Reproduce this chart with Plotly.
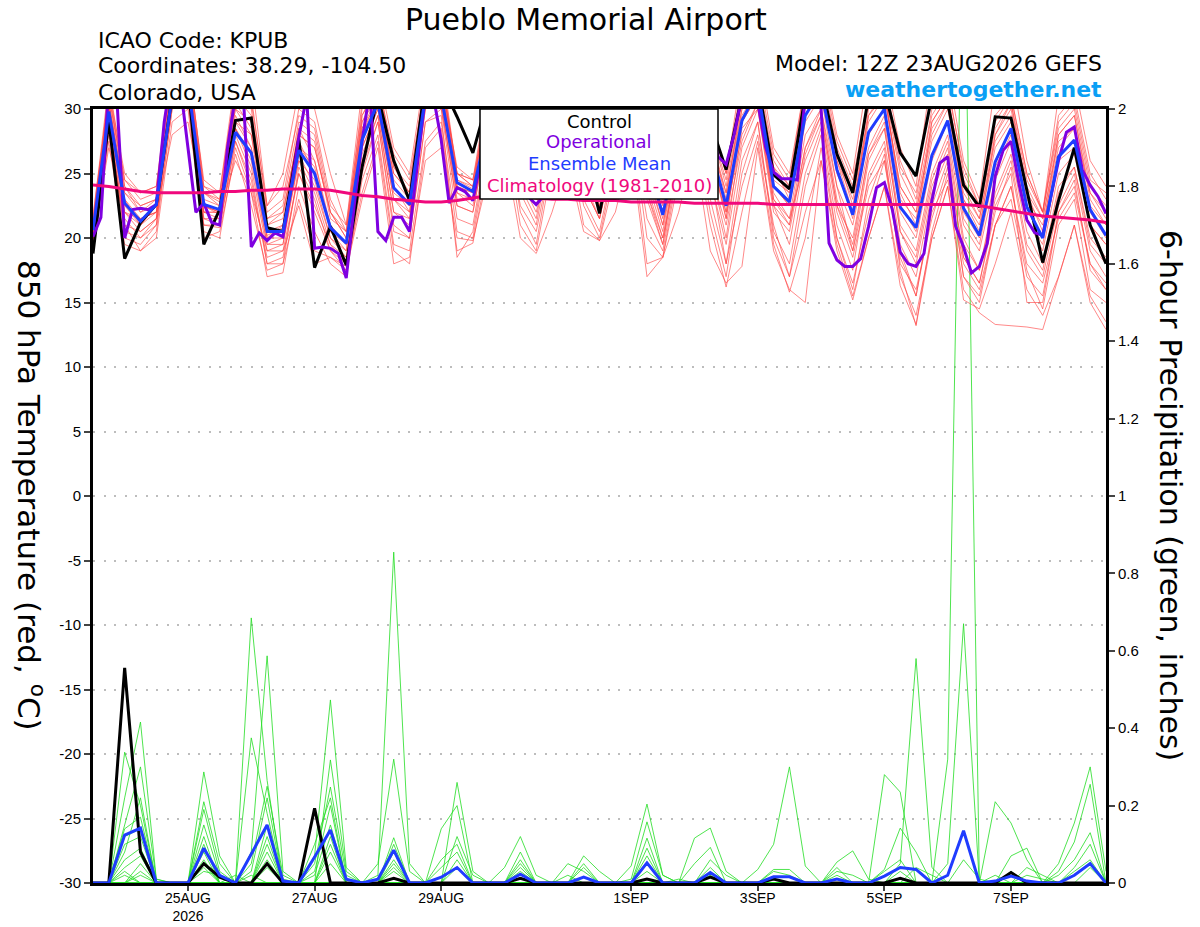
import pandas as pd
import plotly.graph_objects as go

# 6-hourly ensemble steps and 3-hourly operational steps from 12Z 23AUG2026
ens_times = pd.date_range("2026-08-23 12:00", periods=65, freq="6h")
oper_times = pd.date_range("2026-08-23 12:00", periods=129, freq="3h")

tick_days = ["2026-08-25", "2026-08-27", "2026-08-29", "2026-09-01",
             "2026-09-03", "2026-09-05", "2026-09-07"]
tick_text = ["25AUG<br>2026", "27AUG", "29AUG", "1SEP", "3SEP", "5SEP", "7SEP"]

temp_ticks = [-30, -25, -20, -15, -10, -5, 0, 5, 10, 15, 20, 25, 30]
precip_ticks = [0, 0.2, 0.4, 0.6, 0.8, 1, 1.2, 1.4, 1.6, 1.8, 2]

# 850 hPa temperature (C)
temp_control = [18.8, 29.1, 18.4, 21.2, 22.6, 31.0, 32.0, 19.5, 22.2, 29.1, 29.3, 20.8, 20.5,
                27.7, 17.7, 20.9, 17.9, 25.5, 31.0, 26.0, 22.9, 32.0, 32.0, 29.4, 26.6, 31.0,
                32.0, 28.0, 24.0, 29.0, 31.0, 27.0, 21.9, 28.0, 31.0, 27.0, 24.0, 28.0, 31.0,
                29.0, 25.3, 31.0, 32.0, 24.9, 23.8, 31.0, 32.0, 26.5, 23.5, 31.0, 31.5, 26.6,
                24.8, 31.0, 30.5, 24.1, 22.4, 29.4, 29.3, 23.7, 18.1, 22.9, 27.0, 21.0, 18.0]

temp_mean = [20.6, 29.8, 22.7, 21.3, 22.6, 31.0, 32.0, 22.6, 22.2, 28.2, 26.6, 20.5, 20.5,
             26.8, 25.0, 20.8, 19.6, 27.6, 30.5, 23.9, 22.6, 31.0, 31.0, 24.3, 23.6, 29.0,
             31.0, 26.0, 23.5, 28.0, 31.0, 26.0, 23.3, 28.5, 31.0, 26.0, 21.8, 27.5, 31.0,
             27.0, 22.5, 29.1, 31.5, 24.0, 22.8, 29.5, 31.5, 25.3, 21.8, 28.2, 30.0, 22.4,
             20.8, 26.4, 29.1, 22.3, 20.2, 25.9, 28.5, 22.4, 20.0, 26.3, 27.6, 22.2, 20.2]

temp_oper = [20.1, 21.6, 32.0, 31.0, 20.0, 22.2, 22.3, 22.2, 22.6, 29.0, 33.0, 32.0, 27.0,
             22.0, 22.7, 21.2, 21.0, 27.0, 31.0, 31.0, 19.3, 20.4, 19.8, 20.4, 20.1, 23.7,
             27.8, 31.0, 19.2, 19.3, 19.2, 18.8, 16.9, 22.5, 27.5, 31.5, 20.5, 19.8, 21.6,
             21.6, 20.5, 26.0, 31.0, 31.0, 27.6, 22.7, 23.9, 23.6, 22.9, 26.0, 30.0, 31.0,
             30.0, 27.0, 24.0, 23.2, 22.6, 23.3, 26.0, 30.0, 31.0, 30.0, 27.0, 24.5, 23.5,
             23.8, 26.0, 29.0, 31.0, 31.0, 28.0, 25.0, 23.8, 23.5, 25.0, 28.5, 31.0, 31.0,
             29.0, 26.3, 25.7, 28.0, 31.0, 32.0, 30.5, 27.0, 25.1, 24.6, 24.6, 24.5, 31.0,
             32.0, 30.0, 19.6, 18.3, 17.8, 17.8, 18.4, 20.9, 23.9, 24.3, 22.2, 18.9, 18.0,
             17.8, 18.8, 22.9, 25.8, 26.3, 20.9, 19.3, 17.3, 17.8, 19.6, 24.8, 26.8, 27.5,
             24.2, 21.4, 20.4, 20.2, 23.2, 26.0, 28.2, 28.6, 25.3, 24.1, 23.2, 21.9]

temp_climo = [24.1, 24.0, 23.8, 23.6, 23.5, 23.5, 23.5, 23.5, 23.6, 23.6, 23.7, 23.7, 23.8,
              23.8, 23.8, 23.7, 23.5, 23.3, 23.2, 23.0, 22.9, 22.8, 22.8, 22.9, 23.1, 23.3,
              23.3, 23.2, 23.1, 23.0, 23.0, 22.9, 22.9, 22.9, 22.8, 22.8, 22.8, 22.8, 22.7,
              22.7, 22.7, 22.7, 22.7, 22.6, 22.6, 22.6, 22.6, 22.6, 22.6, 22.6, 22.6, 22.6,
              22.6, 22.6, 22.6, 22.6, 22.5, 22.3, 22.1, 21.9, 21.7, 21.6, 21.5, 21.4, 21.2]

temp_members = [
    [20.5, 30.5, 23.0, 21.5, 22.0, 32.0, 33.0, 22.5, 21.8, 31.0, 29.5, 20.2, 20.8, 28.5, 26.0, 21.0, 19.5,
     29.0, 31.5, 24.0, 22.5, 32.0, 32.5, 24.5, 23.8, 31.0, 32.0, 27.0, 24.0, 30.0, 32.0, 27.5, 24.2,
     29.5, 32.0, 26.0, 22.0, 29.0, 32.5, 28.0, 23.0, 31.0, 32.5, 24.5, 23.5, 31.0, 32.5, 26.0, 22.0,
     30.0, 31.5, 23.5, 21.0, 29.0, 31.0, 23.0, 20.5, 28.0, 30.5, 23.5, 20.5, 28.0, 29.5, 23.0, 21.0],
    [20.0, 28.5, 21.5, 20.0, 21.5, 30.5, 31.0, 21.0, 20.8, 27.5, 24.0, 18.5, 19.0, 25.0, 22.5, 19.5, 18.5,
     26.0, 29.5, 22.0, 21.5, 30.0, 30.5, 22.5, 22.0, 28.5, 30.0, 24.5, 22.0, 27.0, 30.0, 24.0, 21.5,
     27.0, 30.0, 23.5, 20.0, 26.0, 30.5, 25.0, 21.0, 27.5, 30.5, 22.5, 21.0, 27.0, 30.0, 23.0, 19.5,
     26.5, 28.5, 20.5, 18.5, 24.5, 27.5, 20.0, 17.5, 23.5, 26.5, 20.5, 18.0, 24.0, 25.5, 20.0, 18.5],
    [21.0, 31.5, 24.0, 22.5, 23.0, 33.0, 33.5, 23.5, 22.8, 30.0, 28.0, 21.5, 22.0, 28.0, 27.0, 22.0, 20.0,
     28.5, 31.0, 25.0, 23.5, 31.5, 32.0, 25.5, 24.5, 30.0, 31.5, 26.5, 24.5, 29.0, 31.5, 27.0, 23.5,
     29.5, 31.5, 27.0, 23.0, 28.0, 31.5, 28.0, 23.5, 30.5, 32.0, 25.5, 23.0, 30.5, 32.0, 26.5, 22.5,
     29.0, 31.0, 24.0, 22.0, 28.0, 30.5, 24.0, 21.5, 27.5, 29.5, 23.5, 21.5, 27.5, 28.5, 23.5, 21.5],
    [19.8, 29.0, 22.0, 21.0, 22.5, 31.0, 32.0, 22.0, 22.0, 28.5, 26.5, 19.5, 20.0, 26.0, 24.5, 20.0, 19.0,
     27.0, 30.0, 23.0, 22.0, 31.0, 30.0, 23.5, 23.0, 29.0, 30.5, 25.0, 23.0, 28.0, 30.5, 25.5, 22.5,
     28.0, 30.5, 25.0, 21.0, 27.0, 30.0, 26.0, 22.0, 28.0, 30.5, 23.0, 21.5, 26.0, 29.0, 22.0, 18.5,
     24.0, 26.0, 19.0, 15.5, 22.0, 24.5, 18.0, 16.0, 21.0, 23.0, 17.0, 15.5, 22.0, 24.0, 18.0, 16.0],
    [20.2, 30.0, 22.5, 21.0, 22.0, 31.5, 32.5, 22.0, 21.5, 29.0, 27.0, 20.0, 20.0, 27.0, 25.5, 20.5, 19.5,
     28.0, 30.5, 23.5, 22.5, 31.5, 31.5, 24.0, 23.5, 29.5, 31.0, 25.5, 23.5, 28.5, 31.0, 26.0, 23.0,
     28.5, 31.0, 24.5, 20.5, 27.5, 31.0, 27.0, 21.5, 29.0, 31.0, 23.0, 21.0, 28.0, 30.0, 24.0, 19.0,
     24.5, 27.0, 17.5, 13.2, 20.0, 24.0, 16.0, 14.2, 13.3, 13.2, 13.1, 12.9, 17.0, 21.0, 15.0, 12.9],
    [21.5, 32.0, 24.5, 23.0, 23.5, 33.5, 34.0, 24.0, 23.0, 32.0, 31.0, 22.0, 23.0, 30.0, 29.0, 23.0, 20.5,
     30.5, 32.5, 25.5, 24.0, 32.5, 33.0, 25.0, 24.0, 31.5, 32.5, 28.0, 25.0, 31.0, 32.5, 28.0, 25.0,
     31.0, 32.5, 28.0, 24.5, 30.5, 32.5, 29.0, 25.0, 32.0, 33.0, 26.5, 24.5, 32.0, 33.5, 27.5, 24.5,
     31.0, 32.5, 26.0, 23.0, 30.0, 32.0, 25.0, 22.5, 29.5, 31.0, 25.0, 22.0, 29.5, 31.0, 25.0, 23.0],
    [20.8, 29.5, 20.0, 19.5, 21.0, 31.0, 31.5, 21.5, 21.0, 28.0, 25.0, 18.0, 18.0, 25.5, 23.0, 19.0, 17.5,
     25.0, 29.0, 21.0, 20.0, 29.0, 30.0, 21.5, 21.0, 28.0, 30.0, 23.5, 21.0, 27.5, 29.5, 24.0, 21.5,
     27.5, 30.0, 23.0, 19.5, 27.0, 30.0, 25.5, 20.0, 28.5, 30.0, 22.0, 20.5, 27.0, 29.5, 22.5, 20.0,
     26.5, 29.0, 21.0, 19.0, 25.0, 28.0, 21.0, 19.0, 24.5, 27.5, 21.5, 19.0, 25.0, 26.5, 21.0, 19.5],
    [21.2, 30.5, 23.5, 22.0, 22.5, 32.5, 33.0, 23.0, 22.5, 30.5, 28.5, 21.0, 21.5, 28.5, 27.5, 21.5, 20.5,
     29.5, 31.5, 24.5, 23.0, 31.0, 32.0, 24.0, 23.0, 30.5, 31.5, 26.0, 23.5, 29.5, 31.5, 26.5, 24.0,
     29.0, 31.5, 26.5, 22.5, 28.5, 31.0, 27.5, 22.5, 30.0, 31.5, 24.0, 22.5, 30.0, 31.5, 25.0, 22.0,
     29.5, 31.5, 23.0, 21.5, 27.5, 30.0, 23.0, 21.0, 27.0, 29.0, 23.0, 21.0, 27.0, 28.5, 22.5, 21.0],
    [20.0, 28.0, 21.0, 19.0, 20.5, 30.0, 30.5, 20.5, 20.0, 27.0, 23.5, 17.0, 17.3, 24.0, 20.5, 18.0, 17.0,
     24.5, 28.0, 19.5, 19.0, 27.5, 29.0, 20.5, 20.0, 27.0, 29.5, 22.0, 19.5, 26.5, 29.0, 22.5, 20.0,
     26.0, 29.0, 20.0, 18.5, 25.5, 29.0, 22.0, 17.0, 25.0, 29.0, 20.0, 17.0, 24.0, 28.0, 20.0, 16.0,
     23.0, 26.5, 18.5, 15.5, 22.5, 26.0, 18.5, 16.5, 22.0, 25.5, 19.0, 17.0, 22.5, 25.0, 19.0, 17.0],
    [20.6, 30.0, 22.5, 21.5, 22.0, 32.0, 32.5, 22.5, 22.0, 29.5, 27.0, 20.5, 21.0, 27.5, 25.0, 21.0, 19.5,
     28.0, 31.0, 24.0, 22.5, 31.5, 31.5, 24.0, 23.5, 29.0, 31.0, 25.5, 23.0, 28.0, 31.0, 26.0, 23.0,
     28.5, 31.0, 26.0, 21.5, 27.5, 31.5, 27.0, 22.0, 29.5, 31.5, 24.0, 22.5, 29.5, 31.5, 25.5, 21.5,
     28.0, 30.0, 22.5, 20.5, 26.5, 29.0, 22.0, 20.0, 26.0, 28.5, 22.5, 20.0, 26.5, 27.5, 22.0, 20.0],
    [20.3, 29.5, 22.0, 20.5, 21.5, 31.5, 32.0, 22.5, 22.0, 28.5, 26.0, 19.5, 19.5, 26.5, 24.0, 20.0, 18.5,
     27.0, 30.0, 23.0, 21.5, 30.5, 31.0, 23.5, 22.5, 28.5, 30.5, 24.5, 22.5, 27.5, 30.5, 25.0, 22.0,
     27.5, 30.5, 24.0, 20.0, 27.0, 30.0, 25.0, 18.0, 24.0, 28.0, 21.0, 17.0, 22.0, 26.0, 19.0, 15.2,
     20.0, 24.0, 16.3, 13.3, 20.5, 25.0, 17.0, 15.0, 21.0, 24.0, 18.0, 16.5, 21.5, 23.5, 18.0, 16.5],
    [21.8, 31.0, 24.5, 23.5, 24.0, 33.0, 33.5, 24.5, 23.5, 31.5, 30.5, 22.5, 24.0, 29.5, 28.5, 22.5, 21.0,
     30.0, 32.0, 26.5, 24.5, 32.0, 32.5, 25.0, 24.5, 31.0, 32.0, 27.5, 24.5, 30.5, 32.0, 27.5, 24.5,
     30.5, 32.0, 27.5, 24.0, 30.0, 32.0, 28.5, 24.5, 31.5, 32.5, 26.0, 24.0, 31.5, 33.0, 27.0, 24.0,
     30.5, 32.0, 25.5, 23.5, 29.5, 31.5, 25.5, 22.5, 29.0, 31.0, 25.0, 22.0, 29.0, 30.5, 24.5, 23.5],
    [19.5, 27.5, 19.5, 19.0, 20.0, 29.0, 30.0, 20.0, 20.5, 26.5, 22.5, 17.5, 18.0, 23.0, 19.0, 18.5, 17.8,
     23.5, 27.5, 19.0, 18.0, 27.0, 28.5, 19.0, 19.6, 26.0, 28.5, 21.0, 19.0, 25.5, 28.0, 21.0, 19.8,
     25.0, 28.0, 18.0, 18.5, 24.5, 28.0, 21.0, 16.2, 22.0, 27.5, 19.5, 15.8, 20.0, 27.0, 20.0, 16.5,
     22.0, 26.0, 18.0, 16.0, 21.5, 25.5, 17.0, 15.5, 21.0, 24.0, 17.5, 14.5, 21.0, 23.0, 16.0, 15.0],
    [20.9, 30.5, 23.5, 22.5, 23.0, 32.0, 33.0, 23.5, 23.0, 30.0, 29.0, 21.0, 22.0, 28.0, 27.0, 22.0, 20.5,
     29.0, 31.0, 25.0, 23.5, 32.0, 32.0, 24.5, 24.0, 30.0, 31.5, 26.0, 24.0, 29.0, 31.5, 27.0, 24.0,
     29.5, 31.5, 27.0, 23.0, 28.5, 31.5, 27.5, 23.5, 30.0, 32.0, 25.0, 23.5, 30.5, 32.0, 26.0, 23.0,
     29.5, 31.0, 24.0, 22.0, 28.5, 30.5, 23.5, 21.5, 28.0, 30.0, 24.0, 21.5, 28.0, 29.5, 23.5, 22.0],
    [20.4, 29.0, 21.0, 20.5, 21.5, 31.0, 31.5, 21.5, 21.5, 28.5, 25.5, 19.0, 19.5, 26.0, 23.5, 19.5, 18.0,
     26.5, 29.5, 22.0, 21.0, 30.0, 30.5, 22.5, 22.0, 28.5, 30.0, 24.0, 21.5, 28.0, 30.0, 24.5, 21.5,
     27.0, 30.0, 23.5, 19.5, 26.5, 30.0, 24.5, 19.5, 27.0, 30.0, 22.5, 19.5, 26.5, 29.5, 22.5, 19.0,
     26.0, 28.5, 20.5, 18.0, 24.0, 27.0, 19.5, 17.5, 23.0, 26.0, 19.5, 17.5, 23.5, 25.5, 19.5, 18.0],
    [21.3, 31.0, 24.0, 22.0, 23.0, 32.5, 33.0, 23.5, 22.5, 31.0, 30.0, 21.5, 22.5, 29.0, 28.0, 22.0, 20.0,
     29.5, 32.0, 25.5, 23.5, 31.0, 32.5, 25.0, 24.0, 30.5, 32.0, 27.0, 24.5, 30.0, 32.0, 27.0, 24.0,
     30.0, 32.0, 27.5, 23.5, 29.5, 32.0, 28.5, 24.0, 31.0, 32.0, 25.5, 24.0, 31.0, 32.5, 26.5, 23.5,
     30.5, 31.5, 25.0, 22.5, 29.0, 31.0, 24.5, 22.0, 28.5, 30.5, 24.5, 22.0, 28.5, 30.0, 24.0, 22.5],
    [20.1, 28.5, 20.5, 20.0, 21.0, 30.0, 31.0, 21.0, 21.0, 27.5, 24.5, 18.0, 18.5, 25.0, 22.0, 19.0, 18.0,
     25.5, 29.0, 20.5, 20.0, 29.0, 29.5, 18.5, 20.5, 27.5, 29.5, 22.5, 20.5, 26.5, 29.0, 23.0, 20.5,
     26.5, 29.0, 21.5, 19.0, 26.0, 29.5, 23.0, 18.0, 26.0, 29.0, 20.5, 18.0, 25.0, 28.5, 21.0, 17.5,
     25.0, 27.5, 19.5, 17.0, 23.5, 26.5, 18.5, 16.5, 22.5, 25.0, 15.0, 15.0, 22.0, 24.5, 17.5, 16.0],
    [21.0, 31.5, 25.0, 23.5, 24.0, 34.0, 34.0, 24.0, 23.5, 32.5, 32.5, 22.5, 25.0, 31.5, 30.0, 25.0, 21.0,
     31.5, 33.0, 27.0, 25.0, 33.0, 33.5, 25.0, 24.5, 32.0, 33.0, 29.0, 25.0, 31.5, 33.0, 28.0, 25.0,
     31.5, 33.0, 28.0, 25.0, 31.5, 33.0, 29.0, 25.0, 33.0, 34.0, 27.0, 25.0, 32.0, 34.0, 28.0, 25.0,
     33.0, 33.0, 27.0, 24.0, 33.0, 33.0, 26.0, 23.0, 32.0, 33.0, 26.0, 22.0, 31.0, 32.0, 26.0, 24.0],
    [20.7, 30.0, 23.0, 21.0, 22.5, 31.5, 32.5, 22.0, 22.0, 29.0, 28.0, 20.0, 21.0, 27.0, 26.0, 20.5, 19.0,
     28.5, 30.5, 24.0, 22.0, 30.5, 31.5, 23.0, 23.0, 29.5, 31.0, 25.0, 23.0, 28.5, 31.0, 25.5, 22.5,
     28.5, 31.0, 25.5, 21.0, 28.0, 30.5, 26.5, 21.5, 29.0, 31.0, 23.5, 21.5, 29.0, 31.0, 24.0, 21.0,
     27.0, 29.5, 22.0, 20.0, 26.0, 29.0, 21.5, 19.5, 25.5, 28.0, 21.5, 19.5, 26.0, 27.0, 21.0, 19.5],
    [19.9, 27.0, 22.0, 21.5, 22.0, 28.0, 29.0, 22.5, 22.0, 26.0, 23.5, 19.0, 19.0, 22.5, 18.0, 18.5, 17.5,
     23.0, 27.0, 18.0, 18.5, 26.0, 27.0, 20.0, 19.8, 25.0, 27.0, 20.0, 18.8, 22.0, 26.0, 20.5, 19.8,
     22.0, 27.0, 17.0, 18.5, 22.0, 27.0, 19.0, 16.5, 17.8, 27.0, 19.0, 16.0, 15.0, 26.0, 19.5, 15.5,
     20.0, 24.0, 17.0, 14.0, 20.0, 24.0, 15.2, 14.5, 18.0, 22.0, 16.0, 14.0, 17.0, 21.0, 15.5, 13.5],
]

# 6-hour precipitation (inches)
precip_control = [0, 0, 0.556, 0.08, 0, 0, 0, 0.05, 0.015, 0, 0, 0.05, 0,
                  0, 0.193, 0, 0, 0, 0, 0.012, 0, 0, 0, 0, 0, 0,
                  0, 0.012, 0, 0, 0, 0, 0, 0, 0, 0.01, 0, 0, 0,
                  0.015, 0, 0, 0, 0.01, 0, 0, 0, 0, 0, 0, 0, 0.012,
                  0, 0, 0, 0, 0, 0, 0.027, 0, 0, 0, 0, 0, 0]

precip_mean = [0, 0, 0.124, 0.142, 0, 0, 0, 0.09, 0.02, 0, 0.077, 0.15, 0.005,
               0, 0.067, 0.137, 0.01, 0, 0.01, 0.085, 0, 0, 0.015, 0.04, 0, 0,
               0, 0.023, 0, 0, 0, 0.015, 0, 0, 0, 0.052, 0, 0, 0,
               0.027, 0, 0, 0, 0.016, 0.016, 0, 0, 0.01, 0, 0, 0.018, 0.04,
               0.035, 0, 0.02, 0.135, 0, 0.005, 0.018, 0.005, 0, 0, 0.02, 0.05, 0]

precip_members = [
    [0, 0, .338, .20, 0, 0, 0, 0, 0, 0, 0, 0, 0,
     0, .10, .22, 0, 0, 0, .05, 0, 0, 0, 0, 0, 0,
     0, .03, 0, 0, 0, 0, 0, 0, 0, 0, 0, 0, .116,
     .142, .03, 0, 0, 0, 0, 0, 0, 0, 0, 0, 0, 0,
     0, 0, 0, 0, 0, 0, 0, 0, 0, 0, .03, .06, 0],
    [0, 0, .22, .416, .01, 0, 0, 0, 0, 0, 0, 0, 0,
     0, 0, .10, 0, 0, 0, .10, 0, 0, 0, 0, 0, 0,
     0, .08, 0, 0, 0, 0, 0, 0, 0, 0, 0, 0, 0,
     0, 0, 0, 0, .035, .035, 0, 0, 0, 0, 0, 0, 0,
     0, 0, 0, 0, 0, 0, 0, .04, .02, 0, 0, 0, 0],
    [0, 0, .15, .30, .01, 0, 0, .287, .07, 0, 0, 0, 0,
     0, 0, .08, 0, 0, 0, .04, 0, 0, 0, 0, 0, 0,
     0, 0, 0, 0, .02, 0, 0, 0, 0, 0, 0, 0, 0,
     .04, 0, 0, 0, 0, 0, 0, 0, .054, .083, .01, 0, 0,
     0, 0, 0, 0, 0, 0, 0, 0, 0, 0, 0, 0, 0],
    [0, 0, .14, .17, 0, 0, 0, 0, 0, 0, .685, .265, 0,
     0, 0, 0, 0, 0, 0, 0, 0, 0, .04, .08, 0, 0,
     0, 0, 0, 0, 0, 0, 0, 0, .01, .158, .02, 0, 0,
     0, 0, 0, 0, 0, 0, 0, 0, 0, 0, 0, 0, 0,
     0, 0, 0, 0, 0, 0, 0, 0, 0, 0, .04, .10, 0],
    [0, 0, .12, .14, 0, 0, 0, .21, .05, 0, 0, 0, 0,
     0, .07, .473, .04, 0, 0, 0, 0, 0, 0, 0, 0, 0,
     0, 0, 0, 0, 0, .05, 0, 0, 0, 0, 0, 0, 0,
     0, 0, 0, 0, 0, 0, 0, 0, 0, 0, 0, 0, 0,
     0, 0, 0, .06, .01, 0, 0, 0, 0, 0, 0, 0, 0],
    [0, 0, .10, .12, 0, 0, 0, .19, .03, 0, 0, 0, 0,
     0, 0, .05, 0, 0, .05, .32, .03, 0, 0, 0, 0, 0,
     0, 0, 0, 0, 0, 0, 0, 0, 0, 0, 0, 0, 0,
     .02, 0, 0, 0, 0, 0, 0, 0, .04, 0, 0, 0, 0,
     0, 0, 0, 0, 0, 0, 0, .02, .01, 0, 0, 0, 0],
    [0, 0, .08, .22, 0, 0, 0, 0, 0, 0, .375, .18, 0,
     0, 0, 0, 0, 0, 0, .03, 0, 0, 0, 0, 0, 0,
     0, 0, 0, 0, 0, 0, 0, 0, 0, .116, 0, 0, 0,
     0, 0, 0, 0, 0, 0, 0, 0, 0, 0, 0, .28, .235,
     0, 0, 0, 0, 0, 0, 0, 0, 0, 0, 0, 0, 0],
    [0, 0, .06, .09, 0, 0, 0, .15, .02, 0, 0, 0, 0,
     0, 0, .318, .03, 0, 0, 0, 0, 0, 0, 0, 0, 0,
     0, .06, 0, 0, 0, 0, 0, 0, 0, 0, 0, 0, 0,
     0, 0, 0, 0, .03, .02, 0, 0, 0, 0, 0, 0, 0,
     0, 0, 0, 0, 0, 0, 0, 0, 0, .02, .06, .13, 0],
    [0, 0, .04, .07, 0, 0, 0, .12, 0, 0, .08, .587, .03,
     0, 0, 0, 0, 0, 0, 0, 0, 0, 0, 0, 0, 0,
     0, 0, 0, 0, .05, .03, 0, 0, 0, 0, 0, 0, 0,
     0, 0, 0, 0, 0, 0, 0, 0, 0, 0, 0, .035, .142,
     .08, 0, 0, 0, 0, 0, 0, 0, 0, 0, 0, 0, 0],
    [0, 0, .03, 0, 0, 0, 0, .10, 0, 0, .05, .25, .02,
     0, 0, 0, 0, 0, 0, 0, 0, 0, .06, .10, 0, 0,
     0, 0, 0, 0, 0, 0, 0, 0, 0, .09, 0, .01, 0,
     0, 0, 0, 0, 0, 0, 0, 0, 0, 0, 0, 0, 0,
     0, 0, 0, 0, 0, .02, 0, 0, 0, 0, 0, 0, 0],
    [0, 0, .02, 0, 0, 0, 0, .08, 0, 0, .03, .22, 0,
     0, 0, 0, 0, 0, 0, 0, 0, 0, 0, .26, .03, 0,
     0, 0, 0, 0, 0, 0, 0, 0, 0, 0, 0, 0, .05,
     .092, 0, 0, 0, 0, 0, 0, 0, 0, 0, 0, 0, 0,
     0, 0, 0, 0, 0, 0, .07, .09, 0, 0, 0, 0, 0],
    [0, 0, 0, .05, 0, 0, 0, .06, 0, 0, 0, .15, .01,
     0, 0, 0, 0, 0, .02, .855, .05, 0, 0, 0, 0, 0,
     0, 0, 0, 0, 0, 0, 0, 0, 0, 0, 0, 0, 0,
     0, 0, 0, .035, .10, .30, .044, 0, 0, 0, 0, 0, 0,
     0, 0, 0, 0, 0, 0, 0, 0, 0, 0, 0, 0, 0],
    [0, 0, 0, .03, 0, 0, 0, .05, 0, 0, 0, .12, 0,
     0, 0, 0, 0, 0, 0, 0, 0, 0, 0, .12, .02, 0,
     0, 0, 0, 0, 0, .04, 0, 0, 0, 0, 0, 0, 0,
     0, 0, 0, 0, 0, 0, 0, 0, .03, .02, 0, 0, 0,
     0, 0, .32, 2.6, 0, 0, 0, 0, 0, 0, 0, 0, 0],
    [0, 0, 0, .02, 0, 0, 0, .04, 0, 0, 0, .10, 0,
     0, 0, 0, 0, 0, 0, .117, 0, 0, 0, 0, 0, 0,
     0, .04, 0, 0, 0, 0, 0, 0, 0, .07, 0, 0, 0,
     0, 0, 0, 0, 0, 0, 0, 0, .02, 0, 0, 0, 0,
     0, 0, 0, 0, 0, .21, .155, .06, 0, 0, 0, 0, 0],
    [0, 0, 0, 0, 0, 0, 0, .03, .02, 0, 0, .08, 0,
     0, 0, 0, 0, 0, 0, 0, 0, 0, .14, .20, 0, 0,
     0, 0, 0, 0, 0, 0, 0, 0, 0, .05, 0, 0, 0,
     0, 0, 0, 0, 0, 0, 0, 0, 0, 0, 0, .03, .06,
     0, 0, 0, 0, 0, 0, 0, 0, 0, 0, 0, .04, 0],
    [0, 0, 0, 0, 0, 0, 0, 0, 0, .02, 0, .06, 0,
     0, .05, .248, .02, 0, 0, 0, 0, 0, 0, 0, 0, 0,
     0, 0, 0, 0, 0, 0, 0, 0, 0, 0, 0, 0, 0,
     .06, .02, 0, 0, 0, 0, 0, 0, 0, 0, 0, 0, 0,
     0, 0, .05, .67, 0, 0, 0, 0, 0, 0, 0, 0, 0],
    [0, 0, 0, 0, 0, 0, 0, 0, 0, 0, .02, 0, 0,
     0, .03, .20, 0, 0, 0, 0, 0, 0, 0, 0, 0, 0,
     .04, .12, .02, 0, 0, 0, 0, 0, 0, 0, 0, 0, 0,
     0, 0, 0, 0, 0, 0, 0, 0, 0, 0, 0, 0, .05,
     .58, .04, 0, 0, 0, 0, 0, 0, 0, 0, 0, 0, 0],
    [0, 0, 0, 0, 0, 0, 0, 0, 0, 0, 0, .04, 0,
     0, 0, 0, 0, 0, 0, .08, 0, 0, 0, 0, 0, 0,
     0, .05, 0, 0, 0, 0, 0, 0, .044, .204, .02, 0, 0,
     0, 0, 0, 0, 0, 0, 0, 0, 0, 0, 0, 0, 0,
     0, 0, 0, 0, 0, 0, .03, 0, 0, 0, 0, 0, 0],
    [0, 0, 0, 0, 0, 0, 0, 0, 0, 0, 0, 0, 0,
     0, .02, .15, .01, 0, 0, 0, 0, 0, 0, .06, 0, 0,
     0, 0, 0, 0, 0, 0, 0, 0, 0, .03, 0, 0, 0,
     0, 0, 0, 0, 0, 0, 0, 0, 0, 0, 0, 0, .03,
     0, 0, 0, 0, 0, 0, 0, 0, 0, .05, .155, .30, .03],
    [0, 0, 0, 0, 0, 0, 0, 0, 0, 0, 0, 0, 0,
     0, 0, .12, 0, 0, 0, .06, 0, 0, 0, .04, 0, 0,
     0, 0, 0, 0, 0, .07, .03, 0, 0, 0, 0, 0, 0,
     0, 0, 0, 0, 0, 0, 0, 0, 0, 0, 0, 0, 0,
     .04, .02, 0, 0, 0, 0, 0, 0, 0, .03, .106, .255, 0],
]

for row in temp_members + precip_members + [temp_control, temp_mean, temp_climo,
                                            precip_control, precip_mean]:
    assert len(row) == len(ens_times), len(row)
assert len(temp_oper) == len(oper_times)

TICK_FONT = "Liberation Sans, Arial, Helvetica, sans-serif"
TEXT_FONT = "DejaVu Sans, Verdana, sans-serif"

fig = go.Figure()

# precipitation on the base (right) axis so temperature draws on top
for row in precip_members:
    fig.add_trace(go.Scatter(x=ens_times, y=row, mode="lines", yaxis="y",
                             line=dict(color="#22dd22", width=0.8), hoverinfo="skip"))
fig.add_trace(go.Scatter(x=ens_times, y=precip_control, mode="lines", yaxis="y",
                         line=dict(color="black", width=3)))
fig.add_trace(go.Scatter(x=ens_times, y=precip_mean, mode="lines", yaxis="y",
                         line=dict(color="#1f3cff", width=3)))

# temperature on the overlaying (left) axis
for row in temp_members:
    fig.add_trace(go.Scatter(x=ens_times, y=row, mode="lines", yaxis="y2",
                             line=dict(color="rgba(255,70,70,0.8)", width=0.8), hoverinfo="skip"))
fig.add_trace(go.Scatter(x=ens_times, y=temp_control, mode="lines", yaxis="y2",
                         line=dict(color="black", width=3)))
fig.add_trace(go.Scatter(x=oper_times, y=temp_oper, mode="lines", yaxis="y2",
                         line=dict(color="#7f00e0", width=3)))
fig.add_trace(go.Scatter(x=ens_times, y=temp_mean, mode="lines", yaxis="y2",
                         line=dict(color="#1f3cff", width=3)))
fig.add_trace(go.Scatter(x=ens_times, y=temp_climo, mode="lines", yaxis="y2",
                         line=dict(color="#f0087c", width=3)))


def py(pix):
    # pixel row -> paper y, plot area spans rows 109..883
    return (883 - pix) / 774


def px_(pix):
    # pixel column -> paper x, plot area spans columns 93..1106
    return (pix - 93) / 1013


annotations = [
    dict(text="Pueblo Memorial Airport", x=px_(586), y=py(19), font=dict(size=30)),
    dict(text="ICAO Code: KPUB", x=px_(96), y=py(40), xanchor="left", font=dict(size=22)),
    dict(text="Coordinates: 38.29, -104.50", x=px_(96), y=py(66), xanchor="left", font=dict(size=22)),
    dict(text="Colorado, USA", x=px_(96), y=py(92), xanchor="left", font=dict(size=22)),
    dict(text="Model: 12Z 23AUG2026 GEFS", x=px_(1104), y=py(64), xanchor="right", font=dict(size=22)),
    dict(text="<b>weathertogether.net</b>", x=px_(1104), y=py(89), xanchor="right",
         font=dict(size=22, color="#0a9ff5")),
    dict(text="850 hPa Temperature (red, <sup>o</sup>C)", x=px_(31), y=py(495), textangle=90,
         font=dict(size=31)),
    dict(text="6-hour Precipitation (green, inches)", x=px_(1170), y=py(495), textangle=90,
         font=dict(size=30)),
    dict(text="Control", x=px_(599), y=py(121), font=dict(size=18, color="black")),
    dict(text="Operational", x=px_(599), y=py(142), font=dict(size=18, color="#7f00e0")),
    dict(text="Ensemble Mean", x=px_(599), y=py(163), font=dict(size=18, color="#1f3cff")),
    dict(text="Climatology (1981-2010)", x=px_(599), y=py(185), font=dict(size=18, color="#f0087c")),
]
for a in annotations:
    a.update(xref="paper", yref="paper", showarrow=False)
    a.setdefault("xanchor", "center")
    a["yanchor"] = "middle"
    a["font"].setdefault("color", "black")
    a["font"]["family"] = TEXT_FONT

fig.update_layout(
    width=1200, height=927,
    margin=dict(l=93, r=94, t=109, b=44),
    paper_bgcolor="white", plot_bgcolor="white",
    showlegend=False,
    font=dict(family=TICK_FONT, color="black"),
    annotations=annotations,
    shapes=[dict(type="rect", xref="paper", yref="paper",
                 x0=px_(480), x1=px_(718), y0=py(199), y1=1.0,
                 fillcolor="white", line=dict(color="black", width=1.5), layer="above")],
    xaxis=dict(range=[ens_times[0], ens_times[-1]], tickvals=pd.to_datetime(tick_days),
               ticktext=tick_text, ticks="outside", ticklen=5, tickwidth=1.5,
               tickfont=dict(size=14), ticklabelstandoff=-5,
               showgrid=False, zeroline=False, automargin=False,
               showline=True, linecolor="black", linewidth=3, mirror=True),
    yaxis=dict(side="right", range=[0, 2], tickvals=precip_ticks,
               ticktext=[f"{v:g}" for v in precip_ticks], ticks="outside", ticklen=6,
               tickwidth=1.5, tickfont=dict(size=15), showgrid=False, zeroline=False,
               automargin=False, showline=True, linecolor="black", linewidth=3),
    yaxis2=dict(side="left", overlaying="y", range=[-30, 30], tickvals=temp_ticks,
                ticktext=[str(v) for v in temp_ticks], ticks="outside", ticklen=6,
                tickwidth=1.5, tickfont=dict(size=15), showgrid=True, gridcolor="#bdbdbd",
                gridwidth=2, griddash="2px,8.5px", zeroline=False, automargin=False,
                showline=True, linecolor="black", linewidth=3),
)

# drop the page's default body margin so the figure sits at the window corner
fig.write_html("out.html", config={"displayModeBar": False},
               post_script="document.body.style.margin = '0px';")
